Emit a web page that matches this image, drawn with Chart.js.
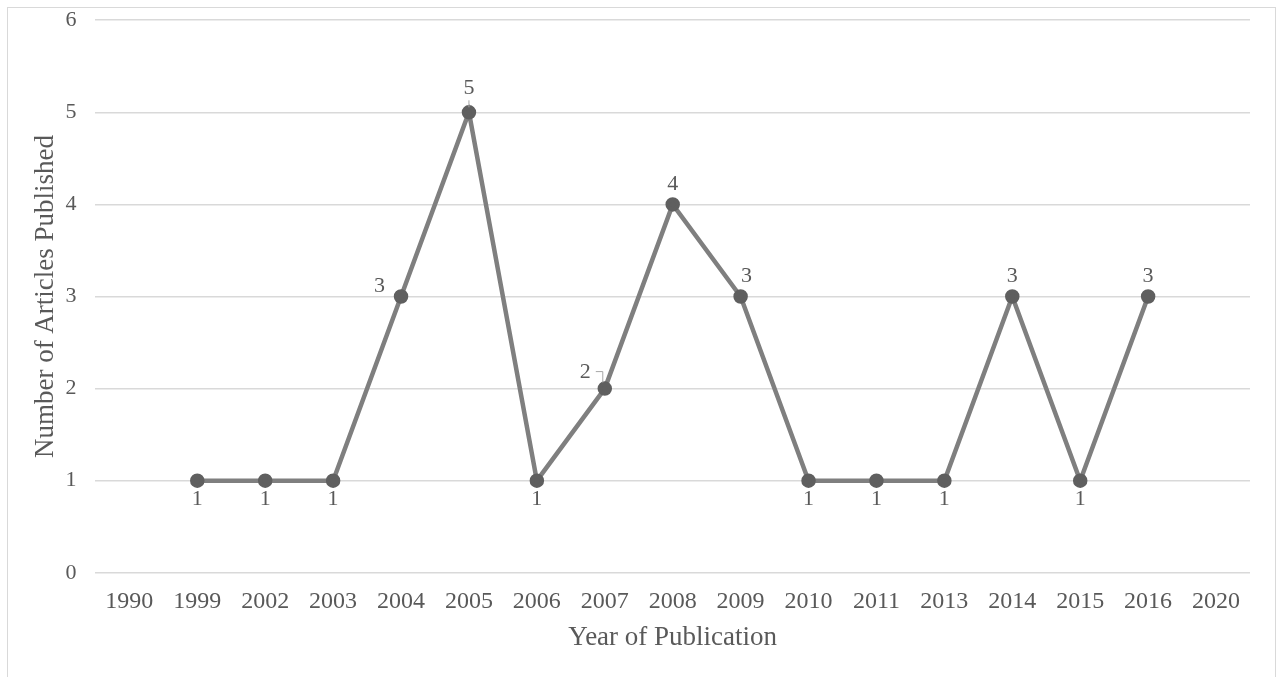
<!DOCTYPE html>
<html>
<head>
<meta charset="utf-8">
<script src="https://cdn.jsdelivr.net/npm/chart.js@4"></script>
<style>
  html, body { margin: 0; padding: 0; background: #fff; overflow: hidden; }
  #frame { position: absolute; left: 7px; top: 7px; width: 1267px; height: 690px; border: 1px solid #d9d9d9; }
  #wrap { position: absolute; left: 0; top: -20px; width: 1267px; height: 689px; }
</style>
</head>
<body>
<div id="frame"><div id="wrap"><canvas id="myChart"></canvas></div></div>
<script>
const years = ['1990', '1999', '2002', '2003', '2004', '2005', '2006', '2007', '2008',
  '2009', '2010', '2011', '2013', '2014', '2015', '2016', '2020'];
const articles = [null, 1, 1, 1, 3, 5, 1, 2, 4, 3, 1, 1, 1, 3, 1, 3, null];
const yTicks = [0, 1, 2, 3, 4, 5, 6];

const textColor = '#595959';
const serif = "'Liberation Serif', 'Times New Roman', serif";

// value labels: below the low points, left of rising points, above the rest
const pointLabels = {
  id: 'pointLabels',
  afterDatasetsDraw(chart) {
    const { ctx } = chart;
    const meta = chart.getDatasetMeta(0);
    const vals = chart.data.datasets[0].data;
    ctx.save();
    ctx.font = '22px ' + serif;
    ctx.fillStyle = textColor;
    ctx.strokeStyle = '#a6a6a6';
    ctx.lineWidth = 1;
    meta.data.forEach((pt, i) => {
      const v = vals[i];
      if (v == null) return;
      const prev = vals[i - 1], next = vals[i + 1];
      const x = pt.x, y = pt.y;
      ctx.textBaseline = 'middle';
      if (v === 1) {
        ctx.textAlign = 'center';
        ctx.fillText(v, x, y + 19);
      } else if (prev != null && next != null && prev < v && next > v) {
        ctx.textAlign = 'right';
        if (v === 2) {
          ctx.fillText(v, x - 14, y - 16);
          ctx.beginPath();
          ctx.moveTo(x - 9, y - 17);
          ctx.lineTo(x - 2, y - 17);
          ctx.lineTo(x - 2, y - 6);
          ctx.stroke();
        } else {
          ctx.fillText(v, x - 16, y - 10);
        }
      } else {
        ctx.textAlign = 'center';
        let dx = 0;
        if (prev != null && next != null && prev > v && next < v) dx = 6;
        ctx.fillText(v, x + dx, y - (v === 5 ? 24 : 20));
        if (v === 5) {
          ctx.beginPath();
          ctx.moveTo(x, y - 12);
          ctx.lineTo(x, y - 5);
          ctx.stroke();
        }
      }
    });
    ctx.restore();
  }
};

new Chart(document.getElementById('myChart'), {
  type: 'line',
  data: {
    labels: years,
    datasets: [{
      data: articles,
      borderColor: '#7f7f7f',
      borderWidth: 4.5,
      pointBackgroundColor: '#5f5f5f',
      pointBorderColor: '#5f5f5f',
      pointRadius: 5,
      tension: 0,
      spanGaps: false
    }]
  },
  plugins: [pointLabels],
  options: {
    responsive: true,
    maintainAspectRatio: false,
    animation: false,
    layout: { padding: { left: 21, right: 25, top: 1, bottom: 23 } },
    plugins: { legend: { display: false }, tooltip: { enabled: false } },
    scales: {
      x: {
        offset: true,
        grid: { display: false },
        border: { display: false },
        ticks: { color: textColor, font: { family: serif, size: 24 }, padding: 7, maxRotation: 0, autoSkip: false },
        title: { display: true, text: 'Year of Publication', color: textColor, font: { family: serif, size: 27 }, padding: { top: -2, bottom: 0 } }
      },
      y: {
        min: 0,
        max: 6,
        afterBuildTicks(axis) { axis.ticks = yTicks.map(v => ({ value: v })); },
        grid: { color: '#d9d9d9', lineWidth: 1.5, drawTicks: false },
        border: { display: false },
        ticks: { color: textColor, font: { family: serif, size: 22 }, padding: 19 },
        title: { display: true, text: 'Number of Articles Published', color: textColor, font: { family: serif, size: 27 }, padding: { top: 1, bottom: -16 } }
      }
    }
  }
});
</script>
</body>
</html>
